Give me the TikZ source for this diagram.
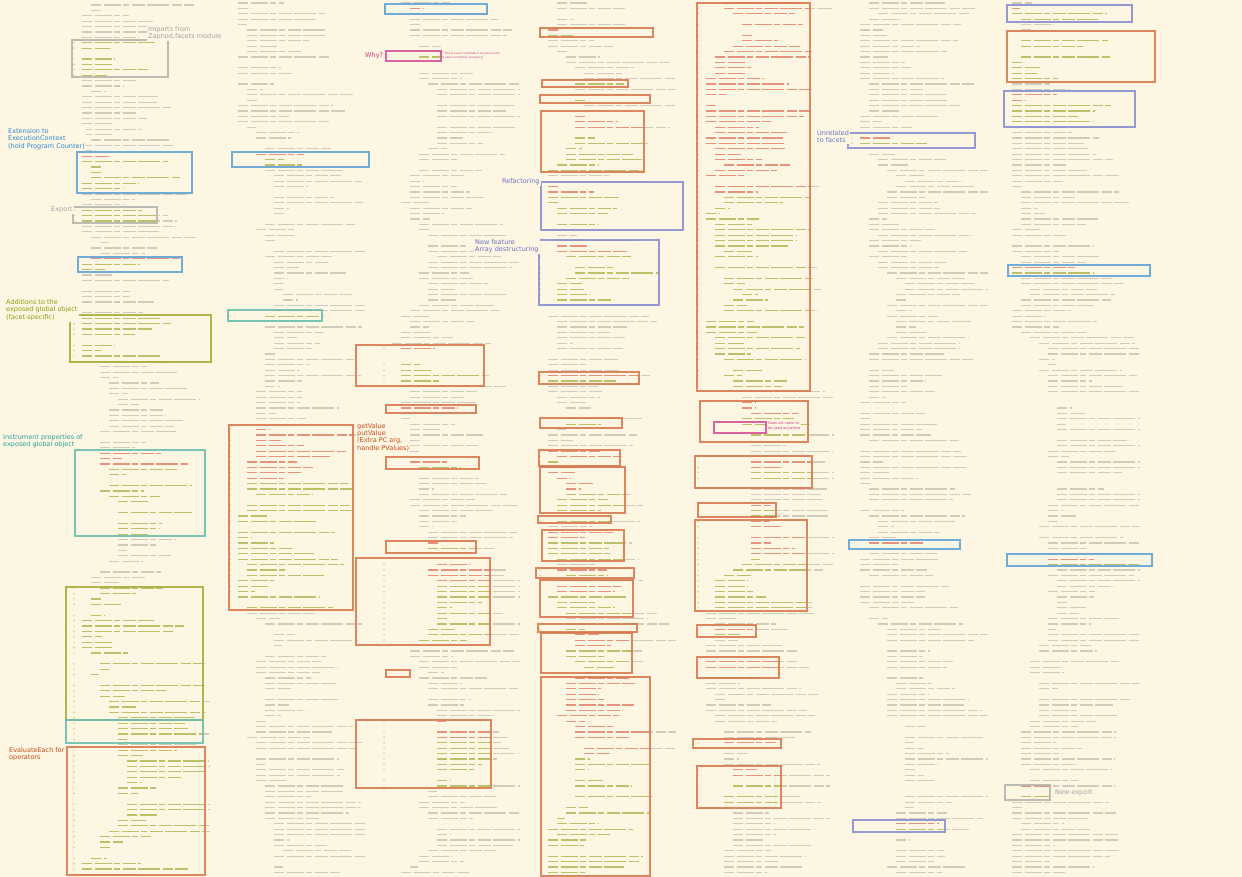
\documentclass[tikz,border=0pt]{standalone}
\usepackage{fontspec}
\setmainfont{DejaVu Sans}
\definecolor{bg}{HTML}{FDF6E3}
\definecolor{codegray}{HTML}{CFCCBD}
\definecolor{codered}{HTML}{E5937E}
\definecolor{codeolive}{HTML}{BDC06A}
\definecolor{gutcol}{HTML}{B8BB55}
\definecolor{borange}{HTML}{D87A50}
\definecolor{bblue}{HTML}{62A5D9}
\definecolor{bpurple}{HTML}{8A8FD2}
\definecolor{bteal}{HTML}{6CBFAE}
\definecolor{bolive}{HTML}{A9AD3B}
\definecolor{bgray}{HTML}{B4B6AE}
\definecolor{bmag}{HTML}{D6549A}
\definecolor{lgray}{HTML}{9EA4A0}
\definecolor{lblue}{HTML}{2E8BD2}
\definecolor{lolive}{HTML}{8E9A10}
\definecolor{lteal}{HTML}{2AA198}
\definecolor{lorange}{HTML}{CB4B16}
\definecolor{lmag}{HTML}{D33682}
\definecolor{lpurple}{HTML}{6C71C4}
\tikzset{
  words/.style={line width=1.2pt, dash pattern=on 10pt off 2.5pt on 17pt off 2.5pt on 6pt off 2.5pt on 13pt off 2.5pt on 22pt off 2.5pt},
  codeline/.style={draw=codegray, words},
  redcode/.style={draw=codered, words},
  olivecode/.style={draw=codeolive, words},
  gutdot/.style={fill=gutcol},
  hlbox/.style={draw=#1, line width=1.5pt, opacity=0.9},
  lbl/.style={font=\fontsize{6.5}{7.3}\selectfont, fill=bg, inner sep=1.2pt, align=left, anchor=north west},
  note/.style={fill=bg, inner sep=1pt, align=left, anchor=north west, text=lmag},
}
\newif\ifgut
% #1 seed, #2 x, #3 y0, #4 y1, #5 style, #6 ya, #7 yb
\newcommand\codecol[7]{%
  \pgfmathsetseed{#1}\xdef\curind{1}%
  \pgfmathtruncatemacro\nl{(#4-#3)/5.4}%
  \foreach \i in {0,...,\nl}{%
    \pgfmathsetmacro\yy{#3+\i*5.4}%
    \pgfmathtruncatemacro\myr{int(rnd*10)}%
    \ifnum\myr<2 \pgfmathtruncatemacro\myt{max(\curind-1,0)}\xdef\curind{\myt}\fi
    \ifnum\myr>7 \pgfmathtruncatemacro\myt{min(\curind+1,5)}\xdef\curind{\myt}\fi
    \pgfmathsetmacro\mylen{min(8+rnd*100,128-\curind*9)}%
    \pgfmathtruncatemacro\mybl{int(rnd*12)}%
    \pgfmathtruncatemacro\myin{(\yy>=#6)&&(\yy<=#7)}%
    \ifnum\mybl>0 \ifnum\myin=1
      \draw[#5] ({#2+\curind*9},\yy) -- ++(\mylen,0);
      \ifgut \fill[gutdot] ({#2-8},\yy) circle (0.7);\fi
    \fi\fi
  }%
}
\newcommand\colA[3]{\codecol{11}{82}{5}{875}{#1}{#2}{#3}}
\newcommand\colB[3]{\codecol{23}{238}{3}{875}{#1}{#2}{#3}}
\newcommand\colC[3]{\codecol{37}{392}{3}{875}{#1}{#2}{#3}}
\newcommand\colD[3]{\codecol{41}{548}{3}{875}{#1}{#2}{#3}}
\newcommand\colE[3]{\codecol{53}{706}{3}{875}{#1}{#2}{#3}}
\newcommand\colF[3]{\codecol{67}{860}{3}{875}{#1}{#2}{#3}}
\newcommand\colG[3]{\codecol{79}{1012}{3}{875}{#1}{#2}{#3}}
% #1 column, #2 x1, #3 y1, #4 x2, #5 y2, #6 box colour, #7 fraction of removed lines
\newcommand\hl[7]{%
  \pgfmathsetmacro\ymid{#3+(#5-#3)*#7}%
  \begin{scope}\guttrue
    \clip (#2,#3) rectangle (#4,#5);
    #1{redcode}{#3}{\ymid}%
    #1{olivecode}{\ymid}{#5}%
  \end{scope}
  \draw[hlbox=#6] (#2,#3) rectangle (#4,#5);
}
\begin{document}
\begin{tikzpicture}[x=1pt,y=-1pt]
\fill[bg] (0,0) rectangle (1242,877);
\useasboundingbox (0,0) rectangle (1242,877);
% code columns
\colA{codeline}{-10}{9999}
\colB{codeline}{-10}{9999}
\colC{codeline}{-10}{9999}
\colD{codeline}{-10}{9999}
\colE{codeline}{-10}{9999}
\colF{codeline}{-10}{9999}
\colG{codeline}{-10}{9999}
% column A
\hl{\colA}{72}{40}{168}{77}{bgray}{0}
\hl{\colA}{77}{152}{192}{193}{bblue}{0.15}
\hl{\colA}{73}{207}{157}{223}{bgray}{0}
\hl{\colA}{78}{257}{182}{272}{bblue}{0.4}
\hl{\colA}{70}{315}{211}{362}{bolive}{0}
\hl{\colA}{75}{450}{205}{536}{bteal}{0.2}
\hl{\colA}{66}{587}{203}{720}{bolive}{0}
\hl{\colA}{66}{720}{203}{743}{bteal}{0}
\hl{\colA}{67}{747}{205}{875}{borange}{0}
% column B
\hl{\colB}{232}{152}{369}{167}{bblue}{0.5}
\hl{\colB}{228}{310}{322}{321}{bteal}{0.5}
\hl{\colB}{229}{425}{353}{610}{borange}{0.3}
% column C
\hl{\colC}{385}{4}{487}{14}{bblue}{0.5}
\hl{\colC}{386}{51}{441}{61}{bmag}{0}
\hl{\colC}{356}{345}{484}{386}{borange}{0.3}
\hl{\colC}{386}{405}{476}{413}{borange}{0.5}
\hl{\colC}{386}{457}{479}{469}{borange}{0.5}
\hl{\colC}{386}{541}{476}{553}{borange}{0.5}
\hl{\colC}{356}{558}{490}{645}{borange}{0.3}
\hl{\colC}{386}{670}{410}{677}{borange}{0.5}
\hl{\colC}{356}{720}{491}{788}{borange}{0.3}
% column D
\hl{\colD}{540}{28}{653}{37}{borange}{0.5}
\hl{\colD}{542}{80}{628}{87}{borange}{0.5}
\hl{\colD}{540}{95}{650}{103}{borange}{0.5}
\hl{\colD}{541}{111}{644}{172}{borange}{0.3}
\hl{\colD}{541}{182}{683}{230}{bpurple}{0.3}
\hl{\colD}{539}{240}{659}{305}{bpurple}{0.2}
\hl{\colD}{539}{372}{639}{384}{borange}{0.5}
\hl{\colD}{540}{418}{622}{428}{borange}{0.5}
\hl{\colD}{539}{450}{620}{466}{borange}{0.5}
\hl{\colD}{540}{467}{625}{513}{borange}{0.5}
\hl{\colD}{538}{516}{611}{523}{borange}{0.5}
\hl{\colD}{542}{530}{624}{561}{borange}{0.4}
\hl{\colD}{536}{568}{634}{578}{borange}{0.5}
\hl{\colD}{540}{580}{633}{617}{borange}{0.4}
\hl{\colD}{538}{624}{637}{632}{borange}{0.5}
\hl{\colD}{541}{633}{632}{673}{borange}{0.4}
\hl{\colD}{541}{677}{650}{876}{borange}{0.4}
% column E
\hl{\colE}{697}{3}{810}{391}{borange}{0.5}
\hl{\colE}{700}{401}{808}{442}{borange}{0.4}
\draw[hlbox=bmag] (714,422) rectangle (766,433);
\hl{\colE}{695}{456}{812}{488}{borange}{0.4}
\hl{\colE}{698}{503}{776}{517}{borange}{0.5}
\hl{\colE}{695}{520}{807}{611}{borange}{0.4}
\hl{\colE}{697}{625}{756}{637}{borange}{0.5}
\hl{\colE}{697}{657}{779}{678}{borange}{0.5}
\hl{\colE}{693}{739}{781}{748}{borange}{0.5}
\hl{\colE}{697}{766}{781}{808}{borange}{0.4}
% column F
\hl{\colF}{848}{133}{975}{148}{bpurple}{0.4}
\hl{\colF}{849}{540}{960}{549}{bblue}{0.5}
\hl{\colF}{853}{820}{945}{832}{bpurple}{0.5}
% column G
\hl{\colG}{1007}{5}{1132}{22}{bpurple}{0.4}
\hl{\colG}{1007}{31}{1155}{82}{borange}{0}
\hl{\colG}{1004}{91}{1135}{127}{bpurple}{0.4}
\hl{\colG}{1008}{265}{1150}{276}{bblue}{0.5}
\hl{\colG}{1007}{554}{1152}{566}{bblue}{0.5}
\hl{\colG}{1005}{785}{1050}{800}{bgray}{0.33}
% labels
\node[lbl, text=lgray] (imports) at (146.8,24.8) {Imports from\\Zaphod.facets module};
\node[lbl, text=lblue] (extension) at (6.8,127.1) {Extension to\\ExecutionContext\\(hold Program Counter)};
\node[lbl, text=lgray] (export) at (49.8,205.1) {Export};
\node[lbl, text=lolive] (additions) at (4.8,298.1) {Additions to the\\exposed global object\\(facet-specific)};
\node[lbl, text=lteal] (instrument) at (1.8,433.1) {Instrument properties of\\exposed global object};
\node[lbl, text=lorange] (evaluate) at (7.8,746.1) {EvaluateEach for\\operators};
\node[lbl, text=lmag] (why) at (363.8,50.8) {Why?};
\node[note, font=\fontsize{2.8}{4}\selectfont] (whynote) at (444,51) {this is never modified in recursive calls\\(was not before necessary)};
\node[lbl, text=lpurple] (refactoring) at (500.8,176.8) {Refactoring};
\node[lbl, text=lpurple] (newfeature) at (473.8,237.8) {New feature\\Array destructuring};
\node[lbl, text=lorange] (getvalue) at (355.8,421.8) {getValue\\putValue\\(Extra PC arg,\\handle PValues)};
\node[note, font=\fontsize{3.5}{4.6}\selectfont] (doesnot) at (767,421) {Does not seem to\\be used anywhere};
\node[lbl, text=lpurple] (unrelated) at (815.8,129.3) {Unrelated\\to facets};
\node[lbl, text=lgray] (newexport) at (1053.8,788.1) {New export};
\end{tikzpicture}
\end{document}
